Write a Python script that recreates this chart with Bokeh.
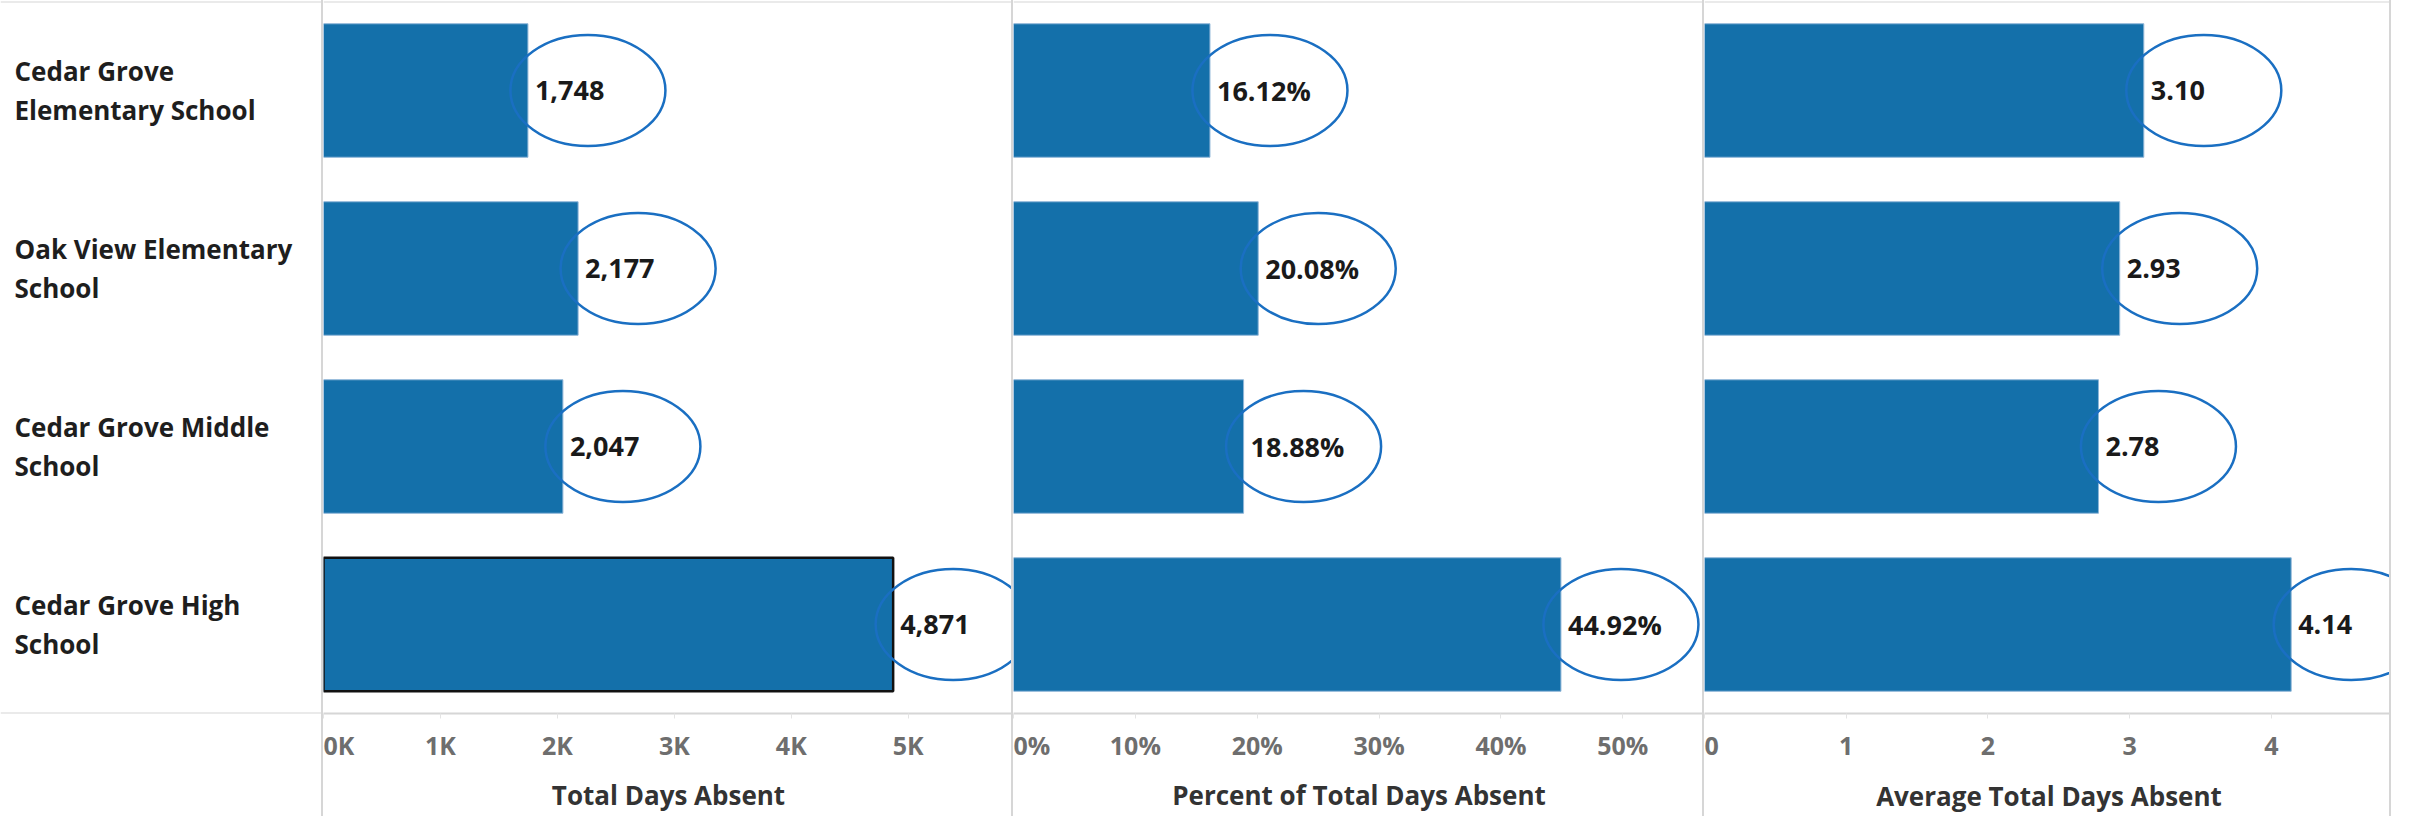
from bokeh.plotting import figure
from bokeh.models import Range1d, FactorRange, Span, FixedTicker
from bokeh.layouts import row
from bokeh.embed import file_html
from bokeh.resources import INLINE
from bokeh.core.properties import value

# ---------------- data ----------------
schools = ["Cedar Grove Elementary School", "Oak View Elementary School",
           "Cedar Grove Middle School", "Cedar Grove High School"]
school_labels = ["Cedar Grove\nElementary School", "Oak View Elementary\nSchool",
                 "Cedar Grove Middle\nSchool", "Cedar Grove High\nSchool"]

total_days = [1748, 2177, 2047, 4871]
total_labels = ["1,748", "2,177", "2,047", "4,871"]
total_ticks = [0, 1000, 2000, 3000, 4000, 5000]
total_tick_labels = ["0K", "1K", "2K", "3K", "4K", "5K"]

pct_days = [16.12, 20.08, 18.88, 44.92]
pct_labels = ["16.12%", "20.08%", "18.88%", "44.92%"]
pct_ticks = [0, 10, 20, 30, 40, 50]
pct_tick_labels = ["0%", "10%", "20%", "30%", "40%", "50%"]

avg_days = [3.10, 2.93, 2.78, 4.14]
avg_labels = ["3.10", "2.93", "2.78", "4.14"]
avg_ticks = [0, 1, 2, 3, 4]
avg_tick_labels = ["0", "1", "2", "3", "4"]

titles = ["Total Days Absent", "Percent of Total Days Absent", "Average Total Days Absent"]
selected = "Cedar Grove High School"

# ---------------- style ----------------
H = 816
TOP = 1
BOT = 100
FONT = "Open Sans"
BAR = "#1470aa"
RING = "#1a6fc2"
GRID = "#d6d6d6"
RING_OFFSET_PX = 60

yr = FactorRange(factors=list(reversed(schools)))


def base_fig(width, x_range, styles=None):
    p = figure(width=width, height=H, x_range=x_range, y_range=yr,
               output_backend="svg", toolbar_location=None,
               y_axis_location=None,
               min_border_left=0, min_border_right=0,
               min_border_top=TOP, min_border_bottom=BOT,
               background_fill_color="white", border_fill_color="white",
               outline_line_color=None, styles=styles or {})
    p.grid.visible = False
    p.add_layout(Span(location=len(schools), dimension="width",
                      line_color=GRID, line_width=2))
    return p


# label column
lab = figure(width=321, height=H, x_range=Range1d(0, 1), y_range=yr,
             output_backend="svg", toolbar_location=None,
             x_axis_location=None, y_axis_location=None,
             min_border_left=0, min_border_right=0,
             min_border_top=TOP, min_border_bottom=BOT,
             outline_line_color=None)
lab.grid.visible = False
lab.add_layout(Span(location=len(schools), dimension="width", line_color=GRID, line_width=2))
lab.add_layout(Span(location=0, dimension="width", line_color=GRID, line_width=2))
lab.text(x=[0] * len(schools), y=schools, text=school_labels, x_offset=14,
         text_align="left", text_baseline="middle",
         text_font=value(FONT), text_font_style="bold", text_font_size="26px",
         text_color="#1e1e1e", text_line_height=1.1)


def panel(vals, labels, xmax, ticks, tick_labels, title, width, styles,
          label_standoff=9, title_standoff=12):
    p = base_fig(width, Range1d(0, xmax), styles)
    is_first = title == titles[0]
    line_colors = ["#111111" if (s == selected and is_first) else "#8fb6d8" for s in schools]
    line_widths = [2.5 if (s == selected and is_first) else 1 for s in schools]
    p.hbar(y=schools, left=0, right=vals, height=0.75, fill_color=BAR,
           line_color=line_colors, line_width=line_widths)
    off = RING_OFFSET_PX * xmax / width
    p.ellipse(x=[v + off for v in vals], y=schools, width=155, height=111,
              width_units="screen", height_units="screen",
              fill_color=None, line_color=RING, line_width=2.5)
    p.text(x=vals, y=schools, text=labels, x_offset=7,
           text_align="left", text_baseline="middle",
           text_font=value(FONT), text_font_style="bold", text_font_size="27px",
           text_color="#1a1a1a")
    ax = p.xaxis[0]
    ax.ticker = FixedTicker(ticks=ticks)
    ax.major_label_overrides = {t: l for t, l in zip(ticks, tick_labels)}
    ax.major_label_text_font = FONT
    ax.major_label_text_font_size = "25px"
    ax.major_label_text_font_style = "bold"
    ax.major_label_text_color = "#6e6e6e"
    ax.major_label_standoff = label_standoff
    ax.major_tick_out = 5
    ax.major_tick_in = 0
    ax.major_tick_line_color = "#e4e4e4"
    ax.minor_tick_line_color = None
    ax.axis_line_color = GRID
    ax.axis_line_width = 2
    ax.axis_label = title
    ax.axis_label_text_font = FONT
    ax.axis_label_text_font_size = "26px"
    ax.axis_label_text_font_style = "bold"
    ax.axis_label_text_color = "#333333"
    ax.axis_label_standoff = title_standoff
    return p


border = "2px solid #d6d6d6"
p1 = panel(total_days, total_labels, 5900, total_ticks, total_tick_labels, titles[0], 690,
           {"border-left": border})
p2 = panel(pct_days, pct_labels, 56.7, pct_ticks, pct_tick_labels, titles[1], 691,
           {"border-left": border})
# purely numeric tick labels are measured by cap height, so give them extra standoff
p3 = panel(avg_days, avg_labels, 4.862, avg_ticks, avg_tick_labels, titles[2], 689,
           {"border-left": border, "border-right": border},
           label_standoff=18, title_standoff=20)

layout = row(lab, p1, p2, p3)
open("out.html", "w").write(file_html(layout, INLINE))
